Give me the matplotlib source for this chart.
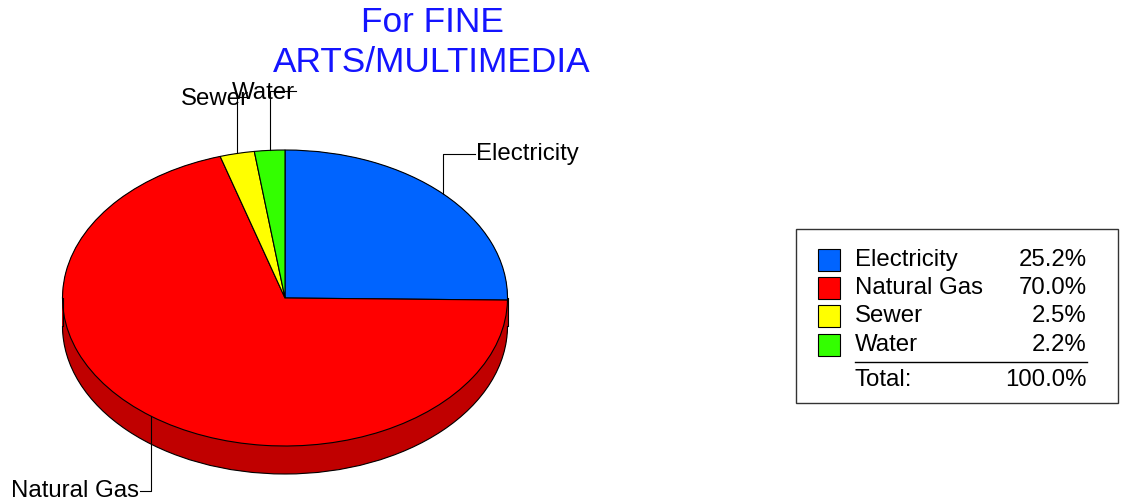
import numpy as np
import matplotlib
matplotlib.use("Agg")
import matplotlib.pyplot as plt
from matplotlib.patches import Rectangle, Arc

plt.rcParams['font.family'] = ['Liberation Sans', 'DejaVu Sans']

# ---- data ----
categories = ["Electricity", "Natural Gas", "Sewer", "Water"]
values = [25.2, 70.0, 2.5, 2.2]
pct_labels = ["25.2%", "70.0%", "2.5%", "2.2%"]
total_label = "100.0%"
title = "For FINE\nARTS/MULTIMEDIA"

colors = ["#0064FF", "#FF0000", "#FFFF00", "#33FF00"]
dark_colors = ["#0048B8", "#C00000", "#B8B800", "#24B800"]

W, H = 1122, 504
fig = plt.figure(figsize=(W / 100, H / 100), dpi=100)

# overlay axes in pixel coordinates
ov = fig.add_axes([0, 0, 1, 1], zorder=0)
ov.set_xlim(0, W)
ov.set_ylim(H, 0)
ov.axis('off')

# pie axes (top face ellipse)
cx, cy, rx, ry = 285, 298, 222.5, 148
pax = fig.add_axes([(cx - rx) / W, (H - (cy + ry)) / H, 2 * rx / W, 2 * ry / H], zorder=1)
depth = 28 / ry

# side layers
for dy in np.linspace(depth, 0.0, 60):
    pax.pie(values, startangle=90, counterclock=False, colors=dark_colors,
            center=(0, -dy), radius=1.0,
            wedgeprops=dict(edgecolor='none', linewidth=0, antialiased=True))
# top face
pax.pie(values, startangle=90, counterclock=False, colors=colors,
        center=(0, 0), radius=1.0,
        wedgeprops=dict(edgecolor='black', linewidth=0.8))
pax.set_aspect('auto')
pax.set_xlim(-1, 1)
pax.set_ylim(-1, 1)
pax.axis('off')

# side outline
pax.add_patch(Arc((0, -depth), 2, 2, theta1=180, theta2=360, color='black', lw=0.8, clip_on=False))
pax.plot([-1, -1], [0, -depth], color='black', lw=0.8, clip_on=False)
pax.plot([1, 1], [0, -depth], color='black', lw=0.8, clip_on=False)

# leader lines & labels
total = sum(values)
cum = np.cumsum(values)
mids = [90 - 360 * (c - v / 2) / total for c, v in zip(cum, values)]

def px2d(xp, yp):
    return (xp - cx) / rx, (cy - yp) / ry

lab_font = 17.3
# Electricity
m = np.radians(mids[0]); x0, y0 = np.cos(m), np.sin(m)
_, yl = px2d(0, 154); xl, _ = px2d(475, 0)
pax.plot([x0, x0, xl], [y0, yl, yl], color='black', lw=0.8, clip_on=False)
pax.text(xl + 0.005, yl, categories[0], ha='left', va='center', fontsize=lab_font, clip_on=False)
# Natural Gas
m = np.radians(mids[1]); x0, y0 = np.cos(m), np.sin(m)
_, yl = px2d(0, 491); xl, _ = px2d(140, 0)
pax.plot([x0, x0, xl], [y0, yl, yl], color='black', lw=0.8, clip_on=False)
pax.text(xl - 0.005, yl, categories[1], ha='right', va='center', fontsize=lab_font, clip_on=False)
# Sewer
m = np.radians(mids[2]); x0, y0 = np.cos(m), np.sin(m)
_, yl = px2d(0, 97); xl, _ = px2d(248, 0)
pax.plot([x0, x0, xl], [y0, yl, yl], color='black', lw=0.8, clip_on=False)
tx, ty = px2d(215, 99)
pax.text(tx, ty, categories[2], ha='center', va='center', fontsize=lab_font, clip_on=False)
# Water
m = np.radians(mids[3]); x0, y0 = np.cos(m), np.sin(m)
_, yl = px2d(0, 91); xl, _ = px2d(296, 0)
pax.plot([x0, x0, xl], [y0, yl, yl], color='black', lw=0.8, clip_on=False)
tx, ty = px2d(263, 93)
pax.text(tx, ty, categories[3], ha='center', va='center', fontsize=lab_font, clip_on=False)

# title
ov.text(432, 22, title.split("\n")[0], ha='center', va='center', fontsize=25.4, color='#1414FF')
ov.text(432, 62, title.split("\n")[1], ha='center', va='center', fontsize=25.4, color='#1414FF')

# legend box
ov.add_patch(Rectangle((796, 229), 322, 174, facecolor='white', edgecolor='#333333', lw=1))
row_y = [260, 288, 316, 345]
for yv, cat, col, pl in zip(row_y, categories, colors, pct_labels):
    ov.add_patch(Rectangle((818, yv - 11), 22, 22, facecolor=col, edgecolor='black', lw=0.8))
    ov.text(855, yv, cat, ha='left', va='center', fontsize=lab_font)
    ov.text(1087, yv, pl, ha='right', va='center', fontsize=lab_font)
ov.plot([855, 1087], [362, 362], color='black', lw=1)
ov.text(855, 380, "Total:", ha='left', va='center', fontsize=lab_font)
ov.text(1087, 380, total_label, ha='right', va='center', fontsize=lab_font)

fig.savefig("out.png", dpi=100)
